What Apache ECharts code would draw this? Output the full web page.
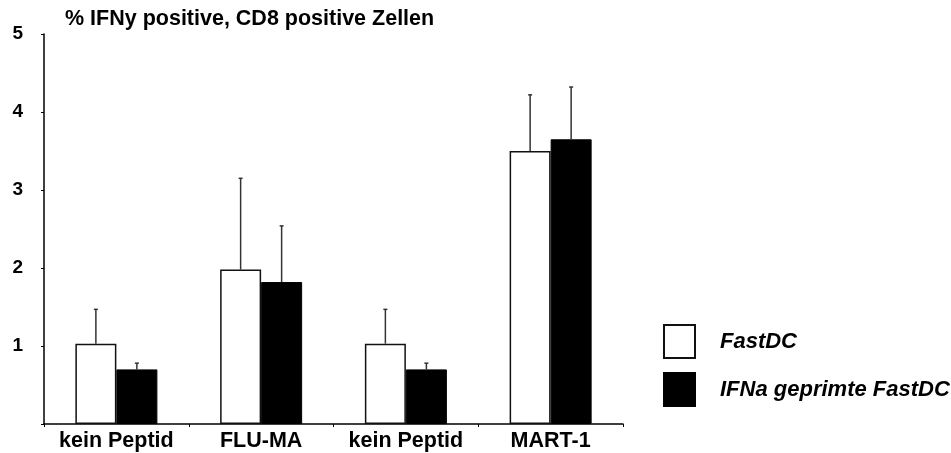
<!DOCTYPE html>
<html>
<head>
<meta charset="utf-8">
<script src="https://cdn.jsdelivr.net/npm/echarts@6/dist/echarts.min.js"></script>
<style>
html,body{margin:0;padding:0;background:#fff;}
#c{width:951px;height:453px;}
</style>
</head>
<body>
<div id="c"></div>
<script>
const categories = ['kein Peptid', 'FLU-MA', 'kein Peptid', 'MART-1'];
const seriesNames = ['FastDC', 'IFNa geprimte FastDC'];
const fastDC = [1.03, 1.98, 1.03, 3.50];
const fastDCErr = [0.44, 1.17, 0.44, 0.72];
const ifnaFastDC = [0.70, 1.82, 0.70, 3.65];
const ifnaFastDCErr = [0.08, 0.72, 0.08, 0.67];
const yTicks = [0, 1, 2, 3, 4, 5];

const FONT = '"Liberation Sans", Arial, Helvetica, sans-serif';
const BAR_W = 41;

function errSeries(values, errs, offset) {
  return {
    type: 'custom',
    silent: true,
    z: 5,
    data: values.map((v, i) => [i, v, v + errs[i]]),
    renderItem: function (params, api) {
      const i = api.value(0);
      const lo = api.coord([i, api.value(1)]);
      const hi = api.coord([i, api.value(2)]);
      const x = lo[0] + offset;
      return {
        type: 'group',
        children: [
          { type: 'line', shape: { x1: x, y1: lo[1], x2: x, y2: hi[1] },
            style: { stroke: '#333', lineWidth: 1.5 } },
          { type: 'line', shape: { x1: x - 2, y1: hi[1], x2: x + 2, y2: hi[1] },
            style: { stroke: '#333', lineWidth: 1.5 } }
        ]
      };
    }
  };
}

const chart = echarts.init(document.getElementById('c'), null, { renderer: 'canvas' });
chart.setOption({
  animation: false,
  backgroundColor: '#fff',
  title: {
    text: '% IFNy positive, CD8 positive Zellen',
    left: 65, top: 8, padding: 0,
    textStyle: { fontFamily: FONT, fontSize: 21.5, fontWeight: 'bold', color: '#000' }
  },
  legend: {
    orient: 'vertical',
    left: 663, top: 324, padding: 0,
    itemWidth: 31, itemHeight: 33, itemGap: 13,
    icon: 'rect',
    data: seriesNames,
    textStyle: { fontFamily: FONT, fontSize: 22, fontWeight: 'bold', fontStyle: 'italic', color: '#000', padding: [0, 0, 0, 20] }
  },
  grid: { left: 44, right: 328, top: 34, bottom: 29, containLabel: false },
  xAxis: {
    type: 'category',
    data: categories,
    axisLine: { lineStyle: { color: '#000', width: 1.5 } },
    axisTick: { show: true, length: 3, lineStyle: { color: '#000' } },
    axisLabel: { margin: 6, fontFamily: FONT, fontSize: 21.5, fontWeight: 'bold', color: '#000', interval: 0 }
  },
  yAxis: {
    type: 'value',
    min: yTicks[0], max: yTicks[yTicks.length - 1], interval: 1,
    splitLine: { show: false },
    axisLine: { show: true, lineStyle: { color: '#000', width: 1.5 } },
    axisTick: { show: true, length: 3, lineStyle: { color: '#000' } },
    axisLabel: {
      margin: 21, fontFamily: FONT, fontSize: 19, fontWeight: 'bold', color: '#000',
      formatter: v => (v === 0 ? '' : String(v))
    }
  },
  series: [
    {
      name: seriesNames[0], type: 'bar', data: fastDC,
      barWidth: BAR_W, barGap: '0%',
      itemStyle: { color: '#fff', borderColor: '#111', borderWidth: 1.5 }
    },
    {
      name: seriesNames[1], type: 'bar', data: ifnaFastDC,
      barWidth: BAR_W, barGap: '0%',
      itemStyle: { color: '#000', borderColor: '#000', borderWidth: 1 }
    },
    errSeries(fastDC, fastDCErr, -BAR_W / 2),
    errSeries(ifnaFastDC, ifnaFastDCErr, BAR_W / 2)
  ]
});
</script>
</body>
</html>
